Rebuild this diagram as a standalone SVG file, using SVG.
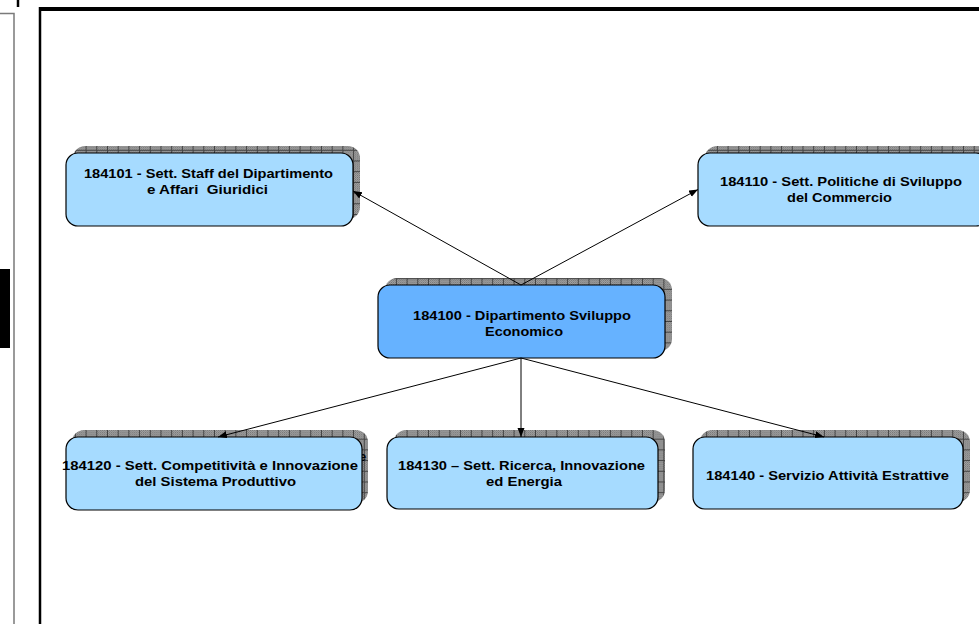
<svg xmlns="http://www.w3.org/2000/svg" width="979" height="624" viewBox="0 0 979 624">
<style>
.box{stroke:#000;stroke-width:1.2}
.lt{fill:#A6DBFF}
.dk{fill:#66B2FF}
.sh{fill:url(#shade)}
.t{font-family:"Liberation Sans",Arial,sans-serif;font-weight:bold;font-size:13px;fill:#000;white-space:pre}
.c{stroke:#000;stroke-width:1;fill:none;marker-end:url(#arr)}
</style>
<defs>
<pattern id="chk" width="2" height="2" patternUnits="userSpaceOnUse">
<rect width="2" height="2" fill="#b4b4b4"/>
<rect width="1" height="1" fill="#6e6e6e"/>
<rect x="1" y="1" width="1" height="1" fill="#6e6e6e"/>
</pattern>
<pattern id="shade" width="10.7" height="10.7" patternUnits="userSpaceOnUse">
<rect width="10.7" height="10.7" fill="url(#chk)"/>
<rect width="1" height="10.7" fill="#444"/>
<rect width="10.7" height="1" fill="#444"/>
</pattern>
<marker id="arr" markerWidth="10" markerHeight="8" refX="9" refY="3.5" orient="auto" markerUnits="userSpaceOnUse">
<path d="M0,0 L9,3.5 L0,7 Z" fill="#000"/>
</marker>
</defs>
<rect width="979" height="624" fill="#fff"/>
<g id="frame">
<line x1="18" y1="0" x2="18" y2="7" stroke="#000" stroke-width="2.5"/>
<line x1="39" y1="9" x2="979" y2="9" stroke="#000" stroke-width="4"/>
<line x1="40" y1="7" x2="40" y2="624" stroke="#000" stroke-width="2.5"/>
<polyline points="0,13.5 14,13.5 14,624" fill="none" stroke="#7a7a7a" stroke-width="1.5"/>
<rect x="0" y="269" width="10" height="79" fill="#000"/>
</g>
<g id="n184101">
<rect class="sh" x="73" y="146" width="287" height="73" rx="12"/>
<rect class="box lt" x="66" y="153" width="287" height="73" rx="12"/>
<text class="t" x="84" y="177.5" textLength="249" lengthAdjust="spacingAndGlyphs">184101 - Sett. Staff del Dipartimento</text>
<text class="t" x="147" y="194" textLength="121" lengthAdjust="spacingAndGlyphs">e Affari  Giuridici</text>
</g>
<g id="n184110">
<rect class="sh" x="705" y="146" width="290" height="73" rx="12"/>
<rect class="box lt" x="698" y="153" width="290" height="73" rx="12"/>
<text class="t" x="720" y="185.5" textLength="242" lengthAdjust="spacingAndGlyphs">184110 - Sett. Politiche di Sviluppo</text>
<text class="t" x="787" y="202" textLength="105" lengthAdjust="spacingAndGlyphs">del Commercio</text>
</g>
<g id="n184100">
<rect class="sh" x="385" y="278" width="287" height="73" rx="12"/>
<rect class="box dk" x="378" y="285" width="287" height="73" rx="12"/>
<text class="t" x="413" y="320" textLength="218" lengthAdjust="spacingAndGlyphs">184100 - Dipartimento Sviluppo</text>
<text class="t" x="485" y="335.5" textLength="78" lengthAdjust="spacingAndGlyphs">Economico</text>
</g>
<g id="n184120">
<rect class="sh" x="72" y="430" width="296" height="73" rx="12"/>
<text class="t" x="359" y="461">e</text>
<rect class="box lt" x="66" y="437" width="296" height="73" rx="12"/>
<text class="t" x="62" y="470" textLength="296" lengthAdjust="spacingAndGlyphs">184120 - Sett. Competitività e Innovazione</text>
<text class="t" x="135" y="486" textLength="161" lengthAdjust="spacingAndGlyphs">del Sistema Produttivo</text>
</g>
<g id="n184130">
<rect class="sh" x="394" y="430" width="271" height="72" rx="12"/>
<rect class="box lt" x="387" y="437" width="271" height="72" rx="12"/>
<text class="t" x="398" y="470" textLength="247" lengthAdjust="spacingAndGlyphs">184130 – Sett. Ricerca, Innovazione</text>
<text class="t" x="486" y="486" textLength="76" lengthAdjust="spacingAndGlyphs">ed Energia</text>
</g>
<g id="n184140">
<rect class="sh" x="700" y="430" width="270" height="72" rx="12"/>
<rect class="box lt" x="693" y="437" width="270" height="72" rx="12"/>
<text class="t" x="706" y="479.5" textLength="243" lengthAdjust="spacingAndGlyphs">184140 - Servizio Attività Estrattive</text>
</g>
<g id="connectors">
<line class="c" x1="521" y1="285" x2="353" y2="191"/>
<line class="c" x1="521" y1="285" x2="698" y2="189.5"/>
<line class="c" x1="521" y1="358" x2="218" y2="437"/>
<line class="c" x1="521" y1="358" x2="521" y2="437"/>
<line class="c" x1="521" y1="358" x2="824" y2="437"/>
</g>
</svg>
